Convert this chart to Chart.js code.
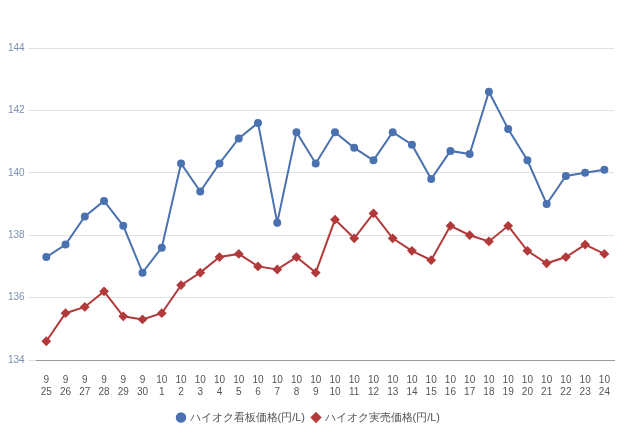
<!DOCTYPE html>
<html><head><meta charset="utf-8">
<script src="https://cdn.jsdelivr.net/npm/chart.js@4/dist/chart.umd.min.js"></script>
<style>html,body{margin:0;background:#fff}#wrap{width:640px;height:437px}</style>
</head><body><div id="wrap"><canvas id="c"></canvas></div>
<script>
var months = ['9','9','9','9','9','9','10','10','10','10','10','10','10','10','10','10','10','10','10','10','10','10','10','10','10','10','10','10','10','10'];
var days = ['25','26','27','28','29','30','1','2','3','4','5','6','7','8','9','10','11','12','13','14','15','16','17','18','19','20','21','22','23','24'];
var kanban = [137.3,137.7,138.6,139.1,138.3,136.8,137.6,140.3,139.4,140.3,141.1,141.6,138.4,141.3,140.3,141.3,140.8,140.4,141.3,140.9,139.8,140.7,140.6,142.6,141.4,140.4,139.0,139.9,140.0,140.1];
var jitsubai = [134.6,135.5,135.7,136.2,135.4,135.3,135.5,136.4,136.8,137.3,137.4,137.0,136.9,137.3,136.8,138.5,137.9,138.7,137.9,137.5,137.2,138.3,138.0,137.8,138.3,137.5,137.1,137.3,137.7,137.4];

var labels = months.map((m, i) => [m, days[i]]);

new Chart(document.getElementById('c'), {
  type: 'line',
  data: {
    labels: labels,
    datasets: [{
      label: 'ハイオク看板価格(円/L)',
      data: kanban,
      borderColor: '#4a72b0', backgroundColor: '#4a72b0',
      borderWidth: 2, pointRadius: 3, pointStyle: 'circle', tension: 0
    }, {
      label: 'ハイオク実売価格(円/L)',
      data: jitsubai,
      borderColor: '#b23a3a', backgroundColor: '#b23a3a',
      borderWidth: 2, pointRadius: 3.5, pointStyle: 'rectRot', tension: 0
    }]
  },
  options: {
    responsive: true, maintainAspectRatio: false, animation: false,
    layout: { padding: { top: 48, right: 26, left: 4, bottom: 4 } },
    plugins: {
      legend: {
        position: 'bottom',
        labels: { usePointStyle: true, boxWidth: 6, boxHeight: 6, padding: 8, color: '#555', font: { size: 11 } }
      },
      tooltip: { enabled: false }
    },
    scales: {
      x: {
        offset: true,
        grid: { display: false },
        border: { color: '#999' },
        ticks: { color: '#555', font: { size: 10 }, maxRotation: 0, autoSkip: false, padding: 6 }
      },
      y: {
        min: 134, max: 144,
        ticks: { stepSize: 2, color: '#7b8fb0', font: { size: 10 }, padding: 4 },
        grid: { color: '#e0e0e0' },
        border: { display: false }
      }
    }
  }
});
</script></body></html>
